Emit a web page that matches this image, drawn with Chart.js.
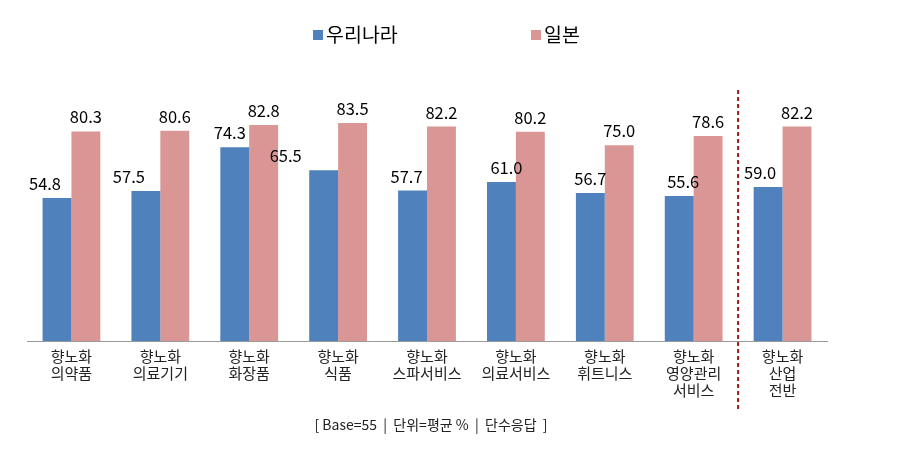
<!DOCTYPE html>
<html>
<head>
<meta charset="utf-8">
<script src="https://cdn.jsdelivr.net/npm/chart.js@4"></script>
<style>
  html, body { margin: 0; padding: 0; background: #fff; }
  #wrap { width: 908px; height: 457px; }
</style>
</head>
<body>
<div id="wrap"><canvas id="myChart" width="908" height="457"></canvas></div>
<script>
// chart data
const categories = [
    ['향노화', '의약품'],
    ['향노화', '의료기기'],
    ['향노화', '화장품'],
    ['향노화', '식품'],
    ['향노화', '스파서비스'],
    ['향노화', '의료서비스'],
    ['향노화', '휘트니스'],
    ['향노화', '영양관리', '서비스'],
    ['향노화', '산업', '전반']
];
const korea = [54.8, 57.5, 74.3, 65.5, 57.7, 61.0, 56.7, 55.6, 59.0];
const japan = [80.3, 80.6, 82.8, 83.5, 82.2, 80.2, 75.0, 78.6, 82.2];
const seriesNames = ['우리나라', '일본'];
const footnote = '[ Base=55  |  단위=평균 %  |  단수응답  ]';

// label nudges (px) for the blue series, as placed in the original
const koreaLabelShift = [-12, -17, -5, -38, -6, 5, 0, 4, -8];

const FONT = "'Noto Sans CJK KR', 'Noto Sans', sans-serif";

const extras = {
    id: 'extras',
    afterDatasetsDraw(chart) {
        const ctx = chart.ctx;
        const x = chart.scales.x;
        ctx.save();

        // value labels
        ctx.font = '16.5px ' + FONT;
        ctx.fillStyle = '#000';
        ctx.textAlign = 'center';
        ctx.textBaseline = 'bottom';
        chart.data.datasets.forEach((ds, di) => {
            chart.getDatasetMeta(di).data.forEach((bar, i) => {
                const shift = di === 0 ? koreaLabelShift[i] : 0;
                ctx.fillText(ds.data[i].toFixed(1), bar.x + shift, bar.y - 6);
            });
        });

        // dashed divider before the last category
        const n = chart.data.labels.length;
        const divX = (x.getPixelForValue(n - 2) + x.getPixelForValue(n - 1)) / 2;
        ctx.strokeStyle = '#9b1b1b';
        ctx.lineWidth = 2;
        ctx.setLineDash([4, 3]);
        ctx.beginPath();
        ctx.moveTo(divX, 90);
        ctx.lineTo(divX, 410);
        ctx.stroke();
        ctx.setLineDash([]);

        // legend
        ctx.font = '19.5px ' + FONT;
        ctx.textAlign = 'left';
        ctx.textBaseline = 'middle';
        const legendX = [313, 531];
        chart.data.datasets.forEach((ds, di) => {
            ctx.fillStyle = ds.backgroundColor;
            ctx.fillRect(legendX[di], 30, 10, 10);
            ctx.fillStyle = '#000';
            ctx.fillText(ds.label, legendX[di] + 13, 35);
        });

        // footnote
        ctx.font = '14px ' + FONT;
        ctx.fillStyle = '#222';
        ctx.textAlign = 'center';
        ctx.fillText(footnote, 431, 425);
        ctx.restore();
    }
};

const ctx = document.getElementById('myChart').getContext('2d');
const myChart = new Chart(ctx, {
    type: 'bar',
    data: {
        labels: categories,
        datasets: [{
            label: seriesNames[0],
            data: korea,
            backgroundColor: '#4F81BD'
        }, {
            label: seriesNames[1],
            data: japan,
            backgroundColor: '#D99694'
        }]
    },
    options: {
        responsive: false,
        animation: false,
        categoryPercentage: 0.65,
        barPercentage: 1,
        layout: { padding: { left: 27, right: 81, top: 80, bottom: 52 } },
        plugins: {
            legend: { display: false },
            tooltip: { enabled: false }
        },
        scales: {
            y: { display: false, min: 0, max: 100 },
            x: {
                grid: { display: false, drawTicks: false },
                border: { display: true, color: '#9a9a9a', width: 1 },
                ticks: {
                    padding: 6,
                    color: '#222',
                    font: { family: FONT, size: 15, lineHeight: 1.15 },
                    maxRotation: 0,
                    autoSkip: false
                }
            }
        }
    },
    plugins: [extras]
});
</script>
</body>
</html>
